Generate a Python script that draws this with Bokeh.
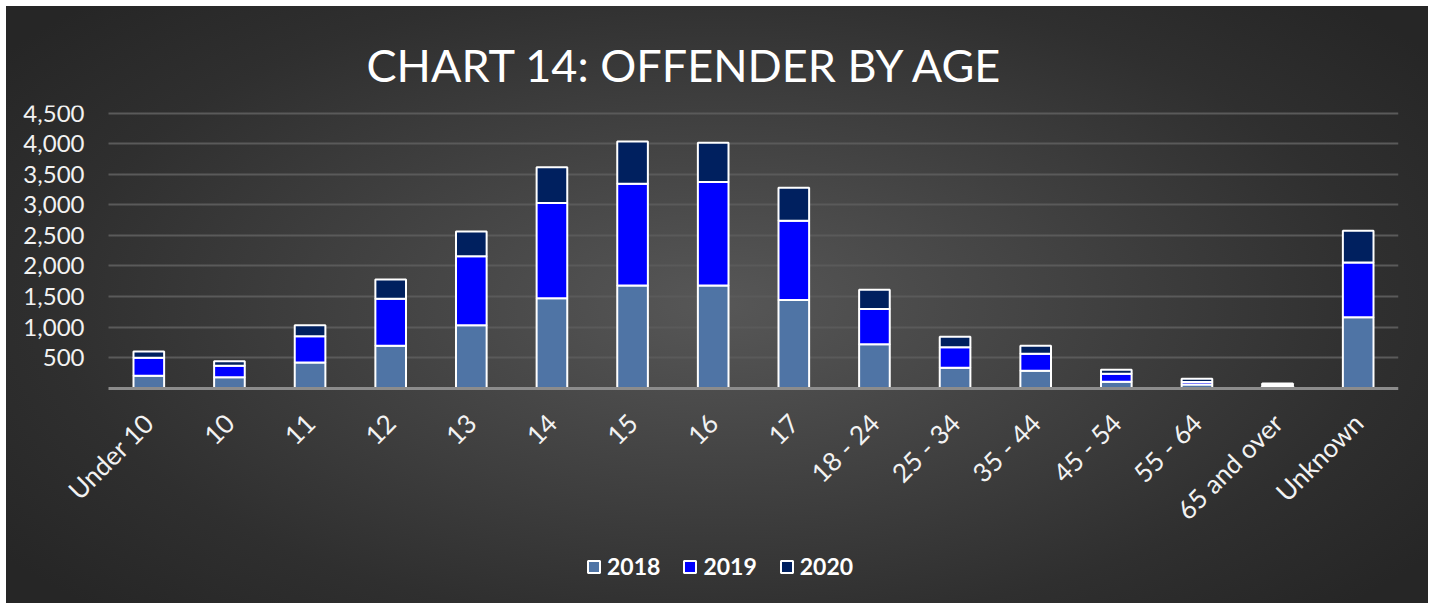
import math
from bokeh.plotting import figure
from bokeh.models import (Range1d, FixedTicker, NumeralTickFormatter,
                          ColumnDataSource, Legend, LegendItem)
from bokeh.embed import file_html
from bokeh.resources import INLINE

categories = ["Under 10", "10", "11", "12", "13", "14", "15", "16", "17",
              "18 - 24", "25 - 34", "35 - 44", "45 - 54", "55 - 64",
              "65 and over", "Unknown"]
years = ["2018", "2019", "2020"]
v2018 = [205, 180, 420, 695, 1030, 1470, 1680, 1680, 1445, 720, 335, 285, 105, 60, 30, 1160]
v2019 = [295, 187, 430, 770, 1130, 1560, 1665, 1695, 1295, 575, 335, 280, 130, 40, 25, 895]
v2020 = [100, 75, 180, 315, 405, 585, 690, 640, 540, 315, 170, 130, 65, 55, 20, 520]
colors = ["#4F74A5", "#0000FF", "#00205F"]
y_ticks = [500, 1000, 1500, 2000, 2500, 3000, 3500, 4000, 4500]

positions = list(range(len(categories)))
source = ColumnDataSource(dict(x=positions, cat=categories,
                               **{"2018": v2018, "2019": v2019, "2020": v2020}))

n = len(categories)
# The frame extends left of the first category and below zero so that the
# rotated category labels, the value labels and the legend all live inside it.
p = figure(width=1422, height=597,
           x_range=Range1d(-0.5 - 102 / 80.625, n - 0.5),
           y_range=Range1d(-3523, 4626), output_backend="svg", toolbar_location=None,
           min_border_left=0, min_border_right=30, min_border_top=99, min_border_bottom=0)

p.styles = {"margin": "6px 0 0 6px",
            "background": "radial-gradient(ellipse 62% 72% at 50% 50%, #575757 0%, #2f2f2f 75%, #262626 100%)"}
p.background_fill_alpha = 0
p.border_fill_alpha = 0
p.outline_line_color = None
p.grid.visible = False

renderers = p.vbar_stack(years, x="x", width=0.38, source=source, color=colors,
                         line_color="white", line_width=2)

p.title.text = "CHART 14: OFFENDER BY AGE"
p.title.text_font = "Lato"
p.title.text_font_size = "45px"
p.title.text_font_style = "normal"
p.title.text_color = "white"
p.title.align = "left"
p.title.offset = 360
p.title.standoff = 27

# value axis: pinned at the left edge of the first category; its ticks,
# drawn inward across the plot, act as the horizontal gridlines
p.yaxis.fixed_location = -0.5
p.yaxis.level = "underlay"
p.yaxis.ticker = FixedTicker(ticks=y_ticks)
p.yaxis.formatter = NumeralTickFormatter(format="0,0")
p.yaxis.axis_line_color = None
p.yaxis.major_tick_line_color = "#5a5a5a"
p.yaxis.major_tick_line_width = 2
p.yaxis.major_tick_in = 1290
p.yaxis.major_tick_out = 0
p.yaxis.minor_tick_line_color = None
p.yaxis.major_label_text_color = "#f2f2f2"
p.yaxis.major_label_text_font = "Lato"
p.yaxis.major_label_text_font_size = "24px"
p.yaxis.major_label_standoff = 24

# category axis pinned at zero
p.xaxis.fixed_location = 0
p.xaxis.bounds = (-0.5, n - 0.5)
p.xaxis.ticker = FixedTicker(ticks=positions)
p.xaxis.major_label_overrides = {i: c for i, c in zip(positions, categories)}
p.xaxis.axis_line_color = "#8c8c8c"
p.xaxis.axis_line_width = 3
p.xaxis.major_tick_line_color = None
p.xaxis.minor_tick_line_color = None
p.xaxis.major_label_orientation = math.pi / 4
p.xaxis.major_label_text_color = "#f2f2f2"
p.xaxis.major_label_text_font = "Lato"
p.xaxis.major_label_text_font_size = "26px"
p.xaxis.major_label_standoff = 24

legend = Legend(items=[LegendItem(label=y, renderers=[r]) for y, r in zip(years, renderers)],
                orientation="horizontal", location=(575, 18))
legend.label_text_color = "white"
legend.label_text_font = "Lato"
legend.label_text_font_style = "bold"
legend.label_text_font_size = "23px"
legend.glyph_width = 15
legend.glyph_height = 15
legend.label_standoff = 6
legend.spacing = 22
legend.padding = 5
legend.margin = 0
legend.background_fill_alpha = 0
legend.border_line_alpha = 0
p.add_layout(legend, "center")

open("out.html", "w").write(file_html(p, INLINE))
